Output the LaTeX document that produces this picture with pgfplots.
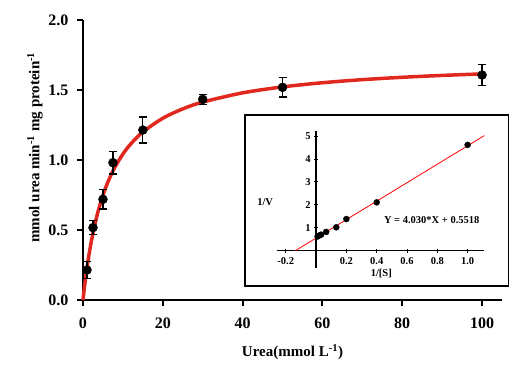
\documentclass[border=0pt]{standalone}
\usepackage{pgfplots}
\pgfplotsset{compat=1.18}
\usepackage{fontspec}
\setmainfont{Liberation Serif}
\definecolor{fitred}{RGB}{225,40,30}
\begin{document}
\begin{tikzpicture}
\useasboundingbox (-83pt,-80pt) rectangle (442pt,300pt);
\begin{axis}[at={(0pt,0pt)}, anchor=south west, scale only axis,
  width=419pt, height=280pt,
  xmin=0, xmax=105, ymin=0, ymax=2,
  axis lines=left, axis line style={-, line width=2.2pt},
  xtick={0,20,40,60,80,100}, xticklabels={0,20,40,60,80,100},
  ytick={0,0.5,1,1.5,2}, yticklabels={0.0,0.5,1.0,1.5,2.0},
  tick align=outside, major tick length=6pt,
  tick style={line width=2pt, black},
  ticklabel style={font=\fontsize{16}{18}\selectfont\bfseries},
  xticklabel style={yshift=-8pt},
  yticklabel style={xshift=-5pt},
  clip=false]
\addplot[fitred, line width=3.5pt, smooth] coordinates {
(0,0) (0.25,0.0637) (0.5,0.1229) (1,0.2293) (1.5,0.3225) (2,0.4047) (2.5,0.4778)
(3,0.5432) (3.5,0.602) (4,0.6552) (5,0.7478) (6,0.8256) (7,0.8919) (8,0.9490)
(10,1.0424) (12,1.1157) (15,1.2000) (20,1.2981) (25,1.3651) (30,1.4137)
(40,1.4796) (50,1.5221) (60,1.5519) (70,1.5739) (80,1.5908) (90,1.6041) (100,1.6150)};
\addplot[only marks, mark=*, mark size=4.5pt, black,
  error bars/.cd, y dir=both, y explicit,
  error bar style={line width=1.2pt, black},
  error mark options={line width=1.2pt, black, mark size=4pt, rotate=90}]
  coordinates {
(1,0.214) +- (0,0.06)
(2.5,0.517) +- (0,0.05)
(5,0.719) +- (0,0.069)
(7.5,0.981) +- (0,0.081)
(15,1.214) +- (0,0.093)
(30,1.433) +- (0,0.037)
(50,1.519) +- (0,0.069)
(100,1.607) +- (0,0.074)};
\end{axis}
\node[rotate=90, font=\fontsize{15}{17}\selectfont\bfseries] at (-48pt,152.5pt) {mmol urea min\textsuperscript{-1} mg protein\textsuperscript{-1}};
\node[font=\fontsize{15}{17}\selectfont\bfseries] at (209.5pt,-52pt) {Urea(mmol L\textsuperscript{-1})};
\draw[line width=1.2pt, fill=white] (162pt,14pt) rectangle (425.3pt,185pt);
\begin{axis}[at={(193.7pt,31.7pt)}, anchor=south west, scale only axis,
  width=207.6pt, height=137.6pt,
  xmin=-0.26, xmax=1.11, ymin=-0.77, ymax=5.24,
  axis lines=middle, axis line style={-, line width=1.3pt},
  xtick={-0.2,0.2,0.4,0.6,0.8,1.0}, xticklabels={-0.2,0.2,0.4,0.6,0.8,1.0},
  ytick={1,2,3,4,5}, yticklabels={1,2,3,4,5},
  ticklabel style={font=\fontsize{10.5}{12}\selectfont\bfseries},
  xticklabel style={yshift=-1.5pt},
  major tick length=4pt, tick align=center,
  tick style={line width=1pt, black},
  clip=false]
\addplot[red, line width=0.8pt] coordinates {(-0.1369,0) (1.11,5.025)};
\addplot[only marks, mark=*, mark size=3pt, black] coordinates {
(1,4.62) (0.4,2.11) (0.2,1.38) (0.1333,1.02) (0.0667,0.82) (0.0333,0.70) (0.02,0.66) (0.01,0.62)};
\node[font=\fontsize{10.5}{12}\selectfont\bfseries] at (axis cs:-0.336,2.14) {1/V};
\node[font=\fontsize{10.5}{12}\selectfont\bfseries] at (axis cs:0.43,-1.02) {1/[S]};
\node[font=\fontsize{10.5}{12}\selectfont\bfseries] at (axis cs:0.763,1.34) {Y = 4.030*X + 0.5518};
\end{axis}
\end{tikzpicture}
\end{document}
